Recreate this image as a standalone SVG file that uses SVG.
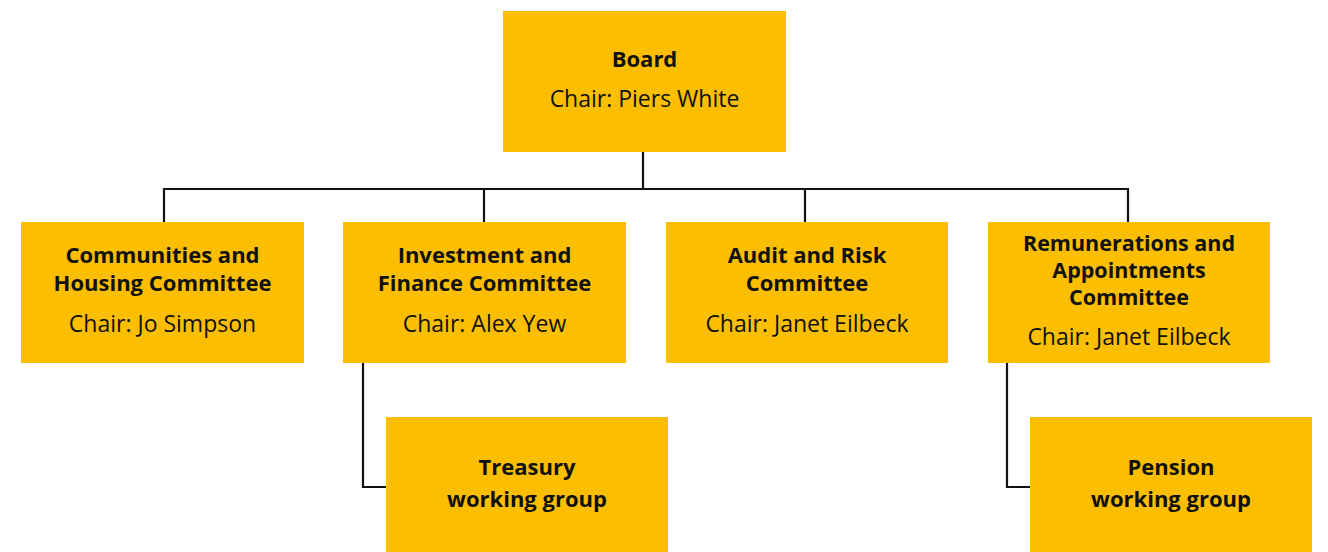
<svg xmlns="http://www.w3.org/2000/svg" width="1328" height="552" viewBox="0 0 1328 552">
  <style>
    .box { fill: #FBBE00; }
    .head { font-family: "Open Sans", "Noto Sans", "Liberation Sans", sans-serif; font-weight: 700; font-size: 22px; fill: #111; text-anchor: middle; }
    .tight { font-size: 21.5px; }
    .chair { font-family: "Open Sans", "Noto Sans", "Liberation Sans", sans-serif; font-weight: 400; font-size: 23px; fill: #111; text-anchor: middle; }
    .link { fill: none; stroke: #111; stroke-width: 2.2; }
  </style>

  <!-- connectors -->
  <g id="connectors">
    <path class="link" d="M643 152 V189"/>
    <path class="link" d="M164 222 V189 H1128 V222"/>
    <path class="link" d="M484 189 V222"/>
    <path class="link" d="M805 189 V222"/>
    <path class="link" d="M363 363 V487 H386"/>
    <path class="link" d="M1007 363 V487 H1030"/>
  </g>

  <g id="board">
    <rect class="box" x="503" y="11" width="283" height="141"/>
    <text class="head" x="644.5" y="67">Board</text>
    <text class="chair" x="644.5" y="107">Chair: Piers White</text>
  </g>

  <g id="communities-housing">
    <rect class="box" x="21" y="222" width="283" height="141"/>
    <text class="head" x="162.5" y="263">Communities and</text>
    <text class="head" x="162.5" y="291">Housing Committee</text>
    <text class="chair" x="162.5" y="332">Chair: Jo Simpson</text>
  </g>

  <g id="investment-finance">
    <rect class="box" x="343" y="222" width="283" height="141"/>
    <text class="head" x="484.5" y="263">Investment and</text>
    <text class="head" x="484.5" y="291">Finance Committee</text>
    <text class="chair" x="484.5" y="332">Chair: Alex Yew</text>
  </g>

  <g id="audit-risk">
    <rect class="box" x="666" y="222" width="282" height="141"/>
    <text class="head" x="807" y="263">Audit and Risk</text>
    <text class="head" x="807" y="291">Committee</text>
    <text class="chair" x="807" y="332">Chair: Janet Eilbeck</text>
  </g>

  <g id="remunerations-appointments">
    <rect class="box" x="988" y="222" width="282" height="141"/>
    <text class="head tight" x="1129" y="251">Remunerations and</text>
    <text class="head tight" x="1129" y="278">Appointments</text>
    <text class="head tight" x="1129" y="305">Committee</text>
    <text class="chair" x="1129" y="345">Chair: Janet Eilbeck</text>
  </g>

  <g id="treasury">
    <rect class="box" x="386" y="417" width="282" height="135"/>
    <text class="head" x="527" y="475">Treasury</text>
    <text class="head" x="527" y="507">working group</text>
  </g>

  <g id="pension">
    <rect class="box" x="1030" y="417" width="282" height="135"/>
    <text class="head" x="1171" y="475">Pension</text>
    <text class="head" x="1171" y="507">working group</text>
  </g>
</svg>
